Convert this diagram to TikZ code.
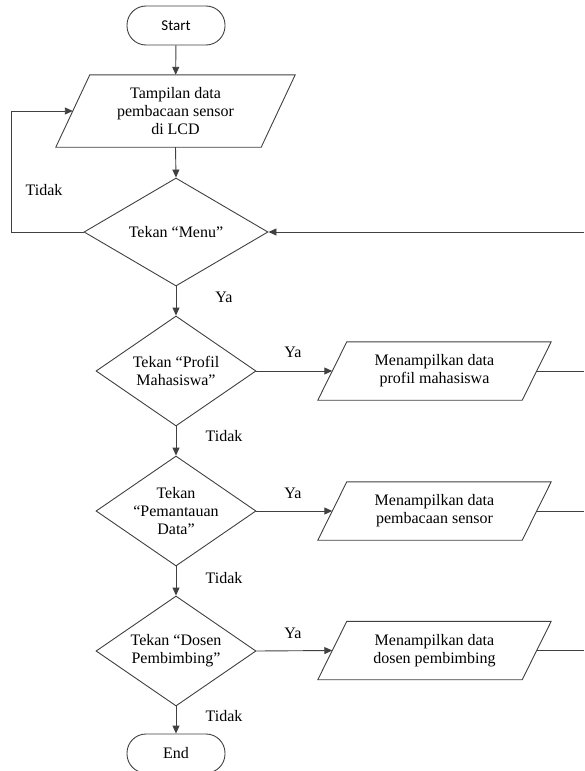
\documentclass[tikz,border=0pt]{standalone}
\usepackage{fontspec}
\setmainfont{Liberation Serif}
\newfontfamily\calib{Carlito}
\usetikzlibrary{shapes.geometric,arrows.meta,calc}
\begin{document}
\begin{tikzpicture}[x=1pt,y=-1pt,
  line/.style={draw=black!75,line width=0.9pt},
  arr/.style={line,-{Triangle[length=8pt,width=7pt]}},
  txt/.style={font=\fontsize{16}{18}\selectfont,align=center,inner sep=0pt},
  termbox/.style={line,rectangle,rounded corners=19pt,minimum width=98pt,minimum height=39pt,inner sep=0pt},
  decbox/.style={line,diamond,minimum width=160pt,minimum height=110pt,inner sep=0pt},
  iobox/.style={rectangle,inner sep=0pt,font=\fontsize{16}{18}\selectfont,align=center},
  lbl/.style={font=\fontsize{16}{18}\selectfont,inner sep=0pt}
]
\useasboundingbox (0,0) rectangle (584,771);
% start
\node[termbox,font=\calib\fontsize{15}{16}\selectfont] (start) at (176,25.5) {Start};
% io 1
\node[iobox,minimum width=205pt,minimum height=72pt] (p1) at (175.5,111) {Tampilan data\\pembacaan sensor\\di LCD};
\draw[line] ($(p1.north west)+(17,0)$) -- ($(p1.north east)+(17,0)$) -- ($(p1.south east)-(17,0)$) -- ($(p1.south west)-(17,0)$) -- cycle;
% decisions
\node[decbox,minimum width=184pt,minimum height=108pt] (d1) at (176,232) {};
\node[decbox] (d2) at (176,371) {};
\node[decbox] (d3) at (176,511) {};
\node[decbox] (d4) at (176,651) {};
\node[txt] (d1t) at (d1.center) {Tekan “Menu”};
\node[txt] (d2t) at (d2.center) {Tekan “Profil\\Mahasiswa”};
\node[txt] (d3t) at (d3.center) {Tekan\\“Pemantauan\\Data”};
\node[txt] (d4t) at (d4.center) {Tekan “Dosen\\Pembimbing”};
\node[termbox,font=\fontsize{16}{18}\selectfont] (end) at (176,753.5) {End};
% outputs
\foreach \n/\y/\t in {p2/371/{Menampilkan data\\profil mahasiswa},p3/511/{Menampilkan data\\pembacaan sensor},p4/650.5/{Menampilkan data\\dosen pembimbing}}{
  \node[iobox,minimum width=204pt,minimum height=58pt] (\n) at (434.5,\y) {\t};
  \draw[line] ($(\n.north west)+(14.5,0)$) -- ($(\n.north east)+(14.5,0)$) -- ($(\n.south east)-(14.5,0)$) -- ($(\n.south west)-(14.5,0)$) -- cycle;
}
% coordinates
\coordinate (lp) at (11,232);
\coordinate (rin) at (584,232);
\coordinate (r2) at (584,371);
\coordinate (r3) at (584,511);
\coordinate (r4) at (584,650.5);
% connectors
\draw[arr] (start) -- (p1);
\draw[arr] (p1.south) -- (d1.north);
\draw[arr] (d1.west) -- (lp) |- (p1.west);
\draw[arr] (rin) -- (d1.east);
\draw[arr] (d1.south) -- (d2.north);
\draw[arr] (d2.south) -- (d3.north);
\draw[arr] (d3.south) -- (d4.north);
\draw[arr] (d4.south) -- (end.north);
\draw[arr] (d2.east) -- (p2.west);
\draw[arr] (d3.east) -- (p3.west);
\draw[arr] (d4.east) -- (p4.west);
\draw[line] (p2.east) -- (r2);
\draw[line] (p3.east) -- (r3);
\draw[line] (p4.east) -- (r4);
% labels
\node[lbl] (t1) at (44,190) {Tidak};
\node[lbl] (y1) at (224,297) {Ya};
\node[lbl] (y2) at (293,352) {Ya};
\node[lbl] (t2) at (224,436) {Tidak};
\node[lbl] (y3) at (293,493) {Ya};
\node[lbl] (t3) at (224,578) {Tidak};
\node[lbl] (y4) at (293,633) {Ya};
\node[lbl] (t4) at (224,716) {Tidak};
\end{tikzpicture}
\end{document}
